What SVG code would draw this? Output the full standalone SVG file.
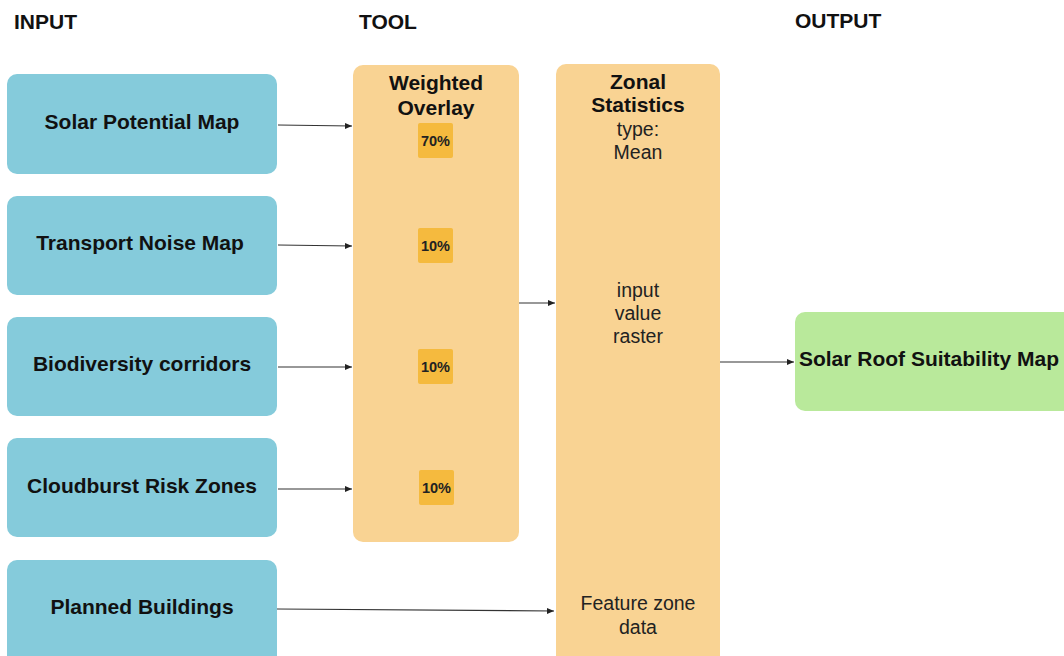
<svg xmlns="http://www.w3.org/2000/svg" width="1064" height="656" viewBox="0 0 1064 656">
  <style>
    .hdr { font-family: "Liberation Sans", Arial, sans-serif; font-weight: bold; font-size: 21px; fill: #111; }
    .in { fill: #85CBDB; }
    .tool { fill: #F9D393; }
    .out { fill: #B9E99B; }
    .badge { fill: #F5BA3E; }
    .lbl { font-family: "Liberation Sans", Arial, sans-serif; font-weight: bold; font-size: 21px; fill: #111; text-anchor: middle; }
    .reg { font-family: "Liberation Sans", Arial, sans-serif; font-size: 19.5px; fill: #222; text-anchor: middle; }
    .pct { font-family: "Liberation Sans", Arial, sans-serif; font-weight: bold; font-size: 14.5px; fill: #222; text-anchor: middle; }
    .conn { stroke: #333; stroke-width: 1.2; fill: none; marker-end: url(#arr); }
  </style>
  <defs>
    <marker id="arr" markerWidth="8" markerHeight="8" refX="7" refY="4" orient="auto" markerUnits="userSpaceOnUse">
      <path d="M0,1 L7,4 L0,7 Z" fill="#222"/>
    </marker>
  </defs>
  <rect width="1064" height="656" fill="#fff"/>

  <!-- column headers -->
  <text class="hdr" x="14" y="29">INPUT</text>
  <text class="hdr" x="359" y="29">TOOL</text>
  <text class="hdr" x="795" y="28">OUTPUT</text>

  <!-- input layers -->
  <g id="solar-potential">
    <rect class="in" x="7" y="74" width="270" height="100" rx="10"/>
    <text class="lbl" x="142" y="129">Solar Potential Map</text>
  </g>
  <g id="transport-noise">
    <rect class="in" x="7" y="196" width="270" height="99" rx="10"/>
    <text class="lbl" x="140" y="250">Transport Noise Map</text>
  </g>
  <g id="biodiversity">
    <rect class="in" x="7" y="317" width="270" height="99" rx="10"/>
    <text class="lbl" x="142" y="371">Biodiversity corridors</text>
  </g>
  <g id="cloudburst">
    <rect class="in" x="7" y="438" width="270" height="99" rx="10"/>
    <text class="lbl" x="142" y="493">Cloudburst Risk Zones</text>
  </g>
  <g id="planned-buildings">
    <rect class="in" x="7" y="560" width="270" height="106" rx="10"/>
    <text class="lbl" x="142" y="614">Planned Buildings</text>
  </g>

  <!-- weighted overlay tool -->
  <g id="weighted-overlay">
    <rect class="tool" x="353" y="65" width="166" height="477" rx="10"/>
    <text class="lbl" x="436" y="90">Weighted</text>
    <text class="lbl" x="436" y="115">Overlay</text>
    <rect class="badge" x="418" y="123" width="35" height="35" rx="2"/>
    <text class="pct" x="435.5" y="146">70%</text>
    <rect class="badge" x="418" y="228" width="35" height="35" rx="2"/>
    <text class="pct" x="435.5" y="251">10%</text>
    <rect class="badge" x="418" y="349" width="35" height="35" rx="2"/>
    <text class="pct" x="435.5" y="372">10%</text>
    <rect class="badge" x="419" y="470" width="35" height="35" rx="2"/>
    <text class="pct" x="436.5" y="493">10%</text>
  </g>

  <!-- zonal statistics tool -->
  <g id="zonal-statistics">
    <rect class="tool" x="556" y="64" width="164" height="610" rx="10"/>
    <text class="lbl" x="638" y="89">Zonal</text>
    <text class="lbl" x="638" y="112">Statistics</text>
    <text class="reg" x="638" y="136">type:</text>
    <text class="reg" x="638" y="159">Mean</text>
    <text class="reg" x="638" y="297">input</text>
    <text class="reg" x="638" y="320">value</text>
    <text class="reg" x="638" y="343">raster</text>
    <text class="reg" x="638" y="610">Feature zone</text>
    <text class="reg" x="638" y="634">data</text>
  </g>

  <!-- output -->
  <g id="suitability-map">
    <rect class="out" x="795" y="312" width="279" height="99" rx="10"/>
    <text class="lbl" x="929" y="366">Solar Roof Suitability Map</text>
  </g>

  <!-- connectors -->
  <g id="connectors">
    <line class="conn" x1="278" y1="125" x2="352" y2="126"/>
    <line class="conn" x1="278" y1="245" x2="352" y2="246"/>
    <line class="conn" x1="278" y1="367" x2="352" y2="367"/>
    <line class="conn" x1="278" y1="489" x2="352" y2="489"/>
    <line class="conn" x1="519" y1="303" x2="555" y2="303"/>
    <line class="conn" x1="720" y1="362" x2="794" y2="362"/>
    <line class="conn" x1="277" y1="609" x2="554" y2="611"/>
  </g>
</svg>
